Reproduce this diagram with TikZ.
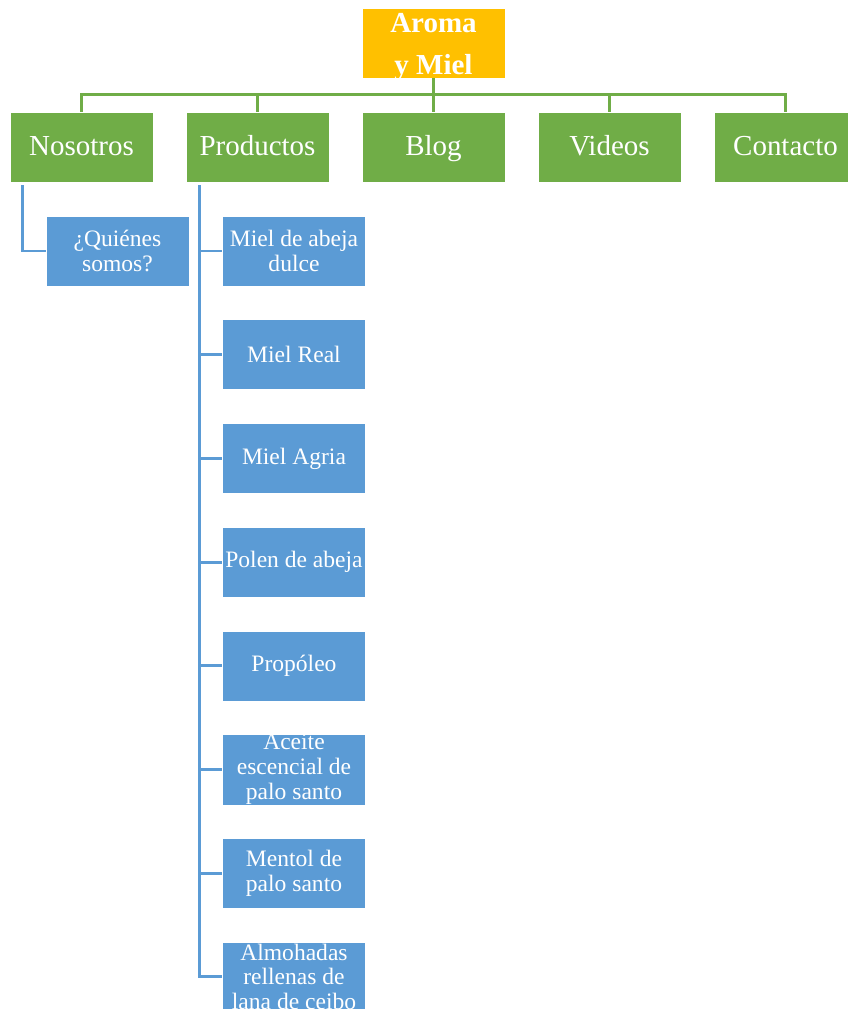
\documentclass[tikz,border=0pt]{standalone}
\usepackage{fontspec}
\setmainfont{Liberation Serif}
\usetikzlibrary{positioning}

\definecolor{boxgold}{HTML}{FFC000}
\definecolor{boxgreen}{HTML}{70AD47}
\definecolor{boxblue}{HTML}{5B9BD5}

\begin{document}
\begin{tikzpicture}[
	node distance=3.52cm,
	every node/.style={align=flush center, text=white, inner sep=0pt},
	goldbox/.style={fill=boxgold, draw=white, line width=0.3pt, text width=2.86cm, minimum height=1.4cm, text height=11.5pt, text depth=24pt, font=\fontsize{16.5}{23.9}\selectfont\bfseries},
	greenbox/.style={fill=boxgreen, draw=white, line width=0.3pt, text width=2.86cm, minimum height=1.4cm, text height=11.5pt, text depth=1.3pt, font=\fontsize{16.5}{20}\selectfont},
	bluebox/.style={fill=boxblue, draw=white, line width=0.3pt, text width=2.86cm, minimum height=1.4cm, font=\fontsize{13.4}{14.2}\selectfont, node distance=2.074cm},
	greenline/.style={draw=boxgreen, line width=1.7pt},
	blueline/.style={draw=boxblue, line width=1.7pt}
	]
	
	\useasboundingbox (-8.67,0.86) rectangle (8.27,-19.32);
	
	% Nodes
	\node[goldbox] (root) {Aroma\\y Miel};
	\node[greenbox, below of=root, node distance=2.08cm] (blog) {Blog};
	\node[greenbox, left of=blog] (productos) {Productos};
	\node[greenbox, left of=productos] (nosotros) {Nosotros};
	\node[greenbox, right of=blog] (videos) {Videos};
	\node[greenbox, right of=videos] (contacto) {Contacto};
	
	\node[bluebox, below of=nosotros, xshift=0.72cm, node distance=2.08cm] (quienes) {¿Quiénes\\somos?};
	
	\node[bluebox, below of=productos, xshift=0.73cm, node distance=2.08cm] (dulce) {Miel de abeja\\dulce};
	\node[bluebox, below of=dulce] (real) {Miel Real};
	\node[bluebox, below of=real] (agria) {Miel Agria};
	\node[bluebox, below of=agria] (polen) {Polen de abeja};
	\node[bluebox, below of=polen] (propoleo) {Propóleo};
	\node[bluebox, below of=propoleo] (aceite) {Aceite\\escencial de\\palo santo};
	\node[bluebox, below of=aceite] (mentol) {Mentol de\\palo santo};
	\node[bluebox, below of=mentol] (almohadas) {Almohadas\\rellenas de\\lana de ceibo};
	
	% Lines from the top box
	\draw[greenline] (root) -- (blog);
	\draw[greenline] (root.south) |- ([yshift=0.34cm]nosotros.north) -- (nosotros.north);
	\draw[greenline] (root.south) |- ([yshift=0.34cm]productos.north) -- (productos.north);
	\draw[greenline] (root.south) |- ([yshift=0.34cm]videos.north) -- (videos.north);
	\draw[greenline] (root.south) |- ([yshift=0.34cm]contacto.north) -- (contacto.north);
	
	% Lines to the sub-pages
	\draw[blueline] ([xshift=0.26cm, yshift=-0.06cm]nosotros.south west) |- (quienes.west);
	
	\draw[blueline] ([xshift=0.28cm, yshift=-0.06cm]productos.south west) |- (dulce.west);
	\draw[blueline] ([xshift=0.28cm, yshift=-0.06cm]productos.south west) |- (real.west);
	\draw[blueline] ([xshift=0.28cm, yshift=-0.06cm]productos.south west) |- (agria.west);
	\draw[blueline] ([xshift=0.28cm, yshift=-0.06cm]productos.south west) |- (polen.west);
	\draw[blueline] ([xshift=0.28cm, yshift=-0.06cm]productos.south west) |- (propoleo.west);
	\draw[blueline] ([xshift=0.28cm, yshift=-0.06cm]productos.south west) |- (aceite.west);
	\draw[blueline] ([xshift=0.28cm, yshift=-0.06cm]productos.south west) |- (mentol.west);
	\draw[blueline] ([xshift=0.28cm, yshift=-0.06cm]productos.south west) |- (almohadas.west);
	
\end{tikzpicture}
\end{document}
